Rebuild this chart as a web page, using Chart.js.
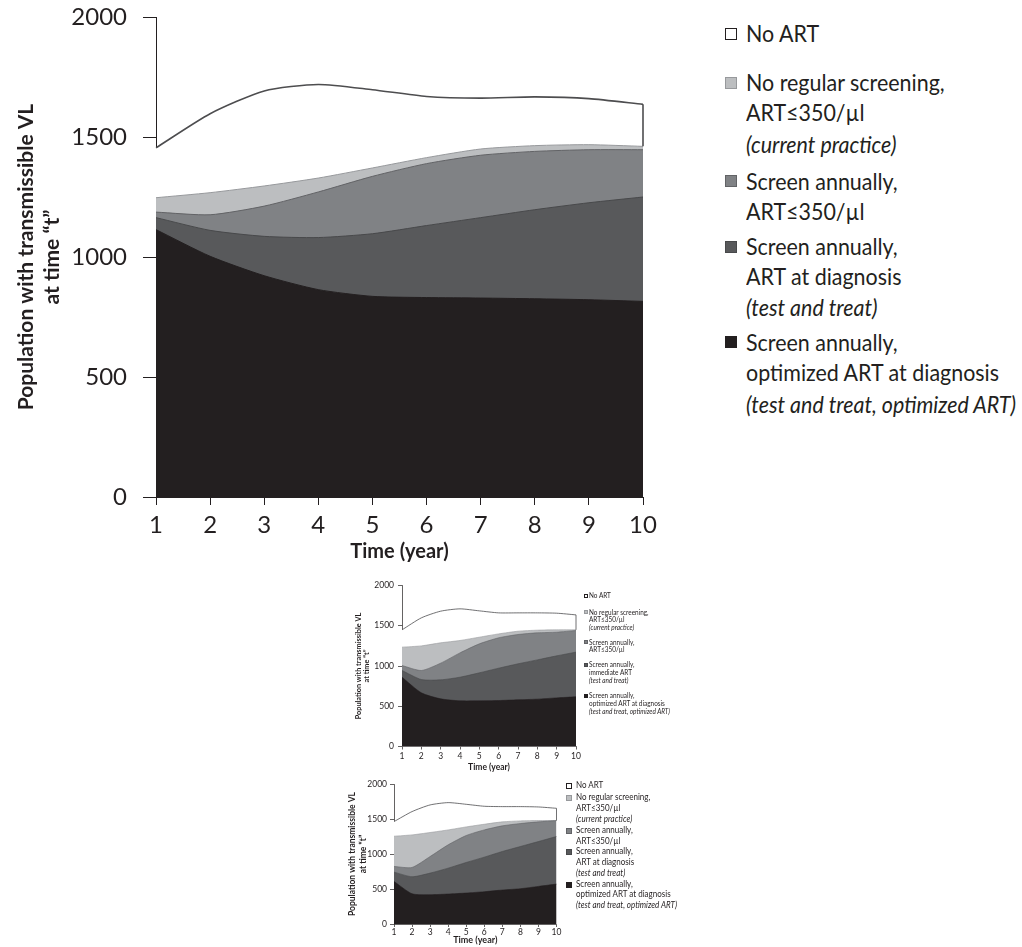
<!DOCTYPE html>
<html>
<head>
<meta charset="utf-8">
<script src="https://cdn.jsdelivr.net/npm/chart.js@4/dist/chart.umd.min.js"></script>
<style>
  html, body { margin: 0; padding: 0; background: #fff; }
  body { width: 1022px; height: 947px; position: relative; overflow: hidden;
         font-family: Lato, "Open Sans", sans-serif; color: #231f20; }
  canvas { position: absolute; }
  .legend { position: absolute; left: 0; top: 0; }
  .legend .row { position: absolute; white-space: nowrap; transform-origin: 0 50%; line-height: 1.2; }
  .legend .row.it { font-style: italic; }
  .legend .sw { position: absolute; box-sizing: border-box; }
</style>
</head>
<body>
<canvas id="main"></canvas>
<canvas id="immediate"></canvas>
<canvas id="diagnosis"></canvas>
<script>
// Simulation years
const years = ['1', '2', '3', '4', '5', '6', '7', '8', '9', '10'];
const yTicks = [0, 500, 1000, 1500, 2000];

// Main panel: population with transmissible viral load, by strategy
const mainNoART      = [1455, 1597, 1692, 1719, 1697, 1669, 1662, 1667, 1660, 1636];
const mainCurrent    = [1247, 1268, 1296, 1329, 1371, 1414, 1450, 1464, 1468, 1461];
const mainScreen350  = [1187, 1176, 1212, 1271, 1336, 1389, 1424, 1440, 1447, 1447];
const mainTestTreat  = [1164, 1111, 1086, 1081, 1097, 1131, 1164, 1197, 1226, 1250];
const mainOptimized  = [1114, 1003,  922,  864,  836,  831,  829,  826,  822,  815];

// Small panel: immediate ART variant
const immNoART       = [1449, 1598, 1681, 1710, 1685, 1660, 1660, 1660, 1656, 1635];
const immCurrent     = [1234, 1250, 1288, 1317, 1358, 1399, 1432, 1445, 1449, 1449];
const immScreen350   = [1006,  944, 1035, 1163, 1275, 1350, 1391, 1412, 1420, 1441];
const immImmediate   = [ 944,  832,  828,  861,  915,  973, 1027, 1076, 1126, 1172];
const immOptimized   = [ 861,  667,  592,  567,  567,  571,  580,  588,  604,  617];

// Small panel: ART at diagnosis variant
const diagNoART      = [1463, 1606, 1701, 1734, 1710, 1682, 1677, 1677, 1672, 1653];
const diagCurrent    = [1254, 1273, 1307, 1344, 1387, 1425, 1459, 1473, 1478, 1478];
const diagScreen350  = [ 822,  808,  964, 1131, 1264, 1344, 1402, 1435, 1459, 1478];
const diagTestTreat  = [ 741,  675,  727,  798,  879,  955, 1036, 1107, 1178, 1250];
const diagOptimized  = [ 608,  432,  418,  428,  442,  461,  485,  504,  537,  570];

// Legend labels (top to bottom)
const legendMain = [
  ['No ART'],
  ['No regular screening,', 'ART≤350/µl', '(current practice)'],
  ['Screen annually,', 'ART≤350/µl'],
  ['Screen annually,', 'ART at diagnosis', '(test and treat)'],
  ['Screen annually,', 'optimized ART at diagnosis', '(test and treat, optimized ART)']
];
const legendImmediate = [
  ['No ART'],
  ['No regular screening,', 'ART≤350/µl', '(current practice)'],
  ['Screen annually,', 'ART≤350/µl'],
  ['Screen annually,', 'immediate ART', '(test and treat)'],
  ['Screen annually,', 'optimized ART at diagnosis', '(test and treat, optimized ART)']
];
const yTitle = ['Population with transmissible VL', 'at time “t”'];
const xTitle = 'Time (year)';

// Shades, legend order: No ART, current practice, screen ≤350, test and treat, optimized
const FILLS = ['#ffffff', '#bcbec0', '#808285', '#58595b', '#231f20'];
const EDGES = ['#4d4d4f', '#97999c', '#626366', '#48494b', '#231f20'];
const INK = '#231f20';
const FONT = 'Lato, "Open Sans", sans-serif';

// Closes the white band at the last year with a vertical edge
const rightEdge = {
  id: 'rightEdge',
  afterDatasetsDraw(chart) {
    const n = chart.data.datasets.length;
    const top = chart.getDatasetMeta(n - 1).data;
    const below = chart.getDatasetMeta(n - 2).data;
    const a = top[top.length - 1], b = below[below.length - 1];
    const ctx = chart.ctx;
    ctx.save();
    ctx.strokeStyle = EDGES[0];
    ctx.lineWidth = chart.options.edgeWidth || 1;
    ctx.beginPath();
    ctx.moveTo(a.x, a.y);
    ctx.lineTo(b.x, b.y);
    ctx.stroke();
    ctx.restore();
  }
};

function areaChart(id, box, series, st) {
  const cv = document.getElementById(id);
  cv.width = box.w; cv.height = box.h;
  Object.assign(cv.style, { left: box.left + 'px', top: box.top + 'px', width: box.w + 'px', height: box.h + 'px' });
  const want = {
    left: box.plotLeft - box.left, right: box.plotRight - box.left,
    top: box.plotTop - box.top, bottom: box.plotBottom - box.top
  };
  // series given bottom-most first so the darkest band is drawn on top
  const datasets = series.map((d, i) => {
    const li = 4 - i;
    return {
      data: d,
      backgroundColor: FILLS[li],
      borderColor: EDGES[li],
      borderWidth: li === 0 ? st.topLine : st.line,
      fill: 'origin',
      pointRadius: 0,
      pointHoverRadius: 0,
      tension: 0.22
    };
  });
  return new Chart(cv, {
    type: 'line',
    data: { labels: years, datasets },
    plugins: [rightEdge],
    options: {
      responsive: false,
      animation: false,
      devicePixelRatio: 1,
      edgeWidth: st.topLine,
      events: [],
      layout: { padding: { left: 0, bottom: 0, top: want.top, right: box.w - want.right } },
      plugins: { legend: { display: false }, tooltip: { enabled: false } },
      scales: {
        x: {
          type: 'category', offset: false, z: 1,
          afterFit: s => { s.height = box.h - want.bottom; s.paddingLeft = 0; s.paddingRight = 0; },
          border: { display: true, color: INK, width: st.axis },
          grid: { display: true, drawOnChartArea: false, drawTicks: true, tickLength: st.xTick, color: INK, lineWidth: st.axis },
          ticks: { color: INK, font: { family: FONT, size: st.tickFont }, padding: st.xPad, maxRotation: 0, autoSkip: false },
          title: { display: true, text: xTitle, color: INK, font: { family: FONT, size: st.xTitleFont, weight: 'bold' }, padding: { top: 0, bottom: st.xTitlePad } }
        },
        y: {
          min: 0, max: 2000, z: 1,
          afterFit: s => { s.width = want.left; s.paddingTop = 0; s.paddingBottom = 0; },
          afterBuildTicks: s => { s.ticks = yTicks.map(v => ({ value: v })); },
          border: { display: true, color: INK, width: st.axis },
          grid: { display: true, drawOnChartArea: false, drawTicks: true, tickLength: st.yTick, color: INK, lineWidth: st.axis },
          ticks: { color: INK, font: { family: FONT, size: st.tickFont }, padding: st.yPad, callback: v => String(v) },
          title: { display: true, text: yTitle, color: INK, font: { family: FONT, size: st.yTitleFont, weight: 'bold', lineHeight: 1.2 }, padding: { top: st.yTitlePad, bottom: 0 } }
        }
      }
    }
  });
}

function legend(items, lineYs, swYs, o) {
  const el = document.createElement('div');
  el.className = 'legend';
  document.body.appendChild(el);
  const rows = [];
  let k = 0;
  items.forEach((lines, i) => {
    const sw = document.createElement('div');
    sw.className = 'sw';
    Object.assign(sw.style, {
      left: o.swLeft + 'px', top: (swYs[i] - o.sw / 2) + 'px',
      width: o.sw + 'px', height: o.sw + 'px',
      background: FILLS[i], border: o.swBorder + 'px solid ' + (i === 0 ? INK : EDGES[i])
    });
    el.appendChild(sw);
    lines.forEach(t => {
      const r = document.createElement('div');
      r.className = 'row' + (t.startsWith('(') ? ' it' : '');
      r.textContent = t;
      Object.assign(r.style, { left: o.textLeft + 'px', top: (lineYs[k++] - 0.62 * o.font) + 'px', fontSize: o.font + 'px' });
      el.appendChild(r);
      rows.push(r);
    });
  });
  // squeeze glyphs horizontally so the longest line spans its column
  const widest = Math.max(...rows.map(r => r.getBoundingClientRect().width));
  const s = o.width / widest;
  rows.forEach(r => { r.style.transform = 'scaleX(' + s + ')'; });
}

// Main panel
areaChart('main',
  { left: 0, top: 0, w: 720, h: 575, plotLeft: 156, plotRight: 643, plotTop: 17, plotBottom: 497 },
  [mainOptimized, mainTestTreat, mainScreen350, mainCurrent, mainNoART],
  { tickFont: 24, yTick: 13, yPad: 16, xTick: 8, xPad: 6, xTitleFont: 20, xTitlePad: 11,
    yTitleFont: 21, yTitlePad: 14, line: 1, topLine: 1.6, axis: 1 });
legend(legendMain,
  [34, 83, 113, 145, 182, 212, 247, 277, 308, 343, 373, 405],
  [34, 83, 181, 247, 342],
  { swLeft: 725, sw: 12, swBorder: 1, textLeft: 746, font: 24, width: 270 });

// Immediate ART panel
areaChart('immediate',
  { left: 340, top: 577, w: 250, h: 198, plotLeft: 402, plotRight: 576, plotTop: 585.5, plotBottom: 746.5 },
  [immOptimized, immImmediate, immScreen350, immCurrent, immNoART],
  { tickFont: 8.5, yTick: 4, yPad: 4, xTick: 3, xPad: 2, xTitleFont: 8.5, xTitlePad: 3,
    yTitleFont: 7.3, yTitlePad: 14, line: 0.6, topLine: 0.8, axis: 0.7 });
legend(legendImmediate,
  [596, 612.3, 620, 627.7, 642.3, 650, 665, 672.7, 680.7, 695.7, 703.3, 711.7],
  [596, 612.3, 642.3, 665, 695.7],
  { swLeft: 583.5, sw: 4, swBorder: 0.6, textLeft: 588.5, font: 7.6, width: 81 });

// ART at diagnosis panel
areaChart('diagnosis',
  { left: 340, top: 772, w: 230, h: 175, plotLeft: 394, plotRight: 556.5, plotTop: 784, plotBottom: 924 },
  [diagOptimized, diagTestTreat, diagScreen350, diagCurrent, diagNoART],
  { tickFont: 8.5, yTick: 4, yPad: 3, xTick: 3, xPad: 0, xTitleFont: 9, xTitlePad: 2,
    yTitleFont: 8.5, yTitlePad: 7.6, line: 0.6, topLine: 0.8, axis: 0.7 });
legend(legendMain,
  [786, 797.5, 809, 819.5, 830.5, 841.5, 852, 863, 873.5, 884.5, 895, 906],
  [786, 797.5, 830.5, 852, 884.5],
  { swLeft: 566, sw: 6, swBorder: 0.7, textLeft: 575.5, font: 9, width: 101 });
</script>
</body>
</html>
